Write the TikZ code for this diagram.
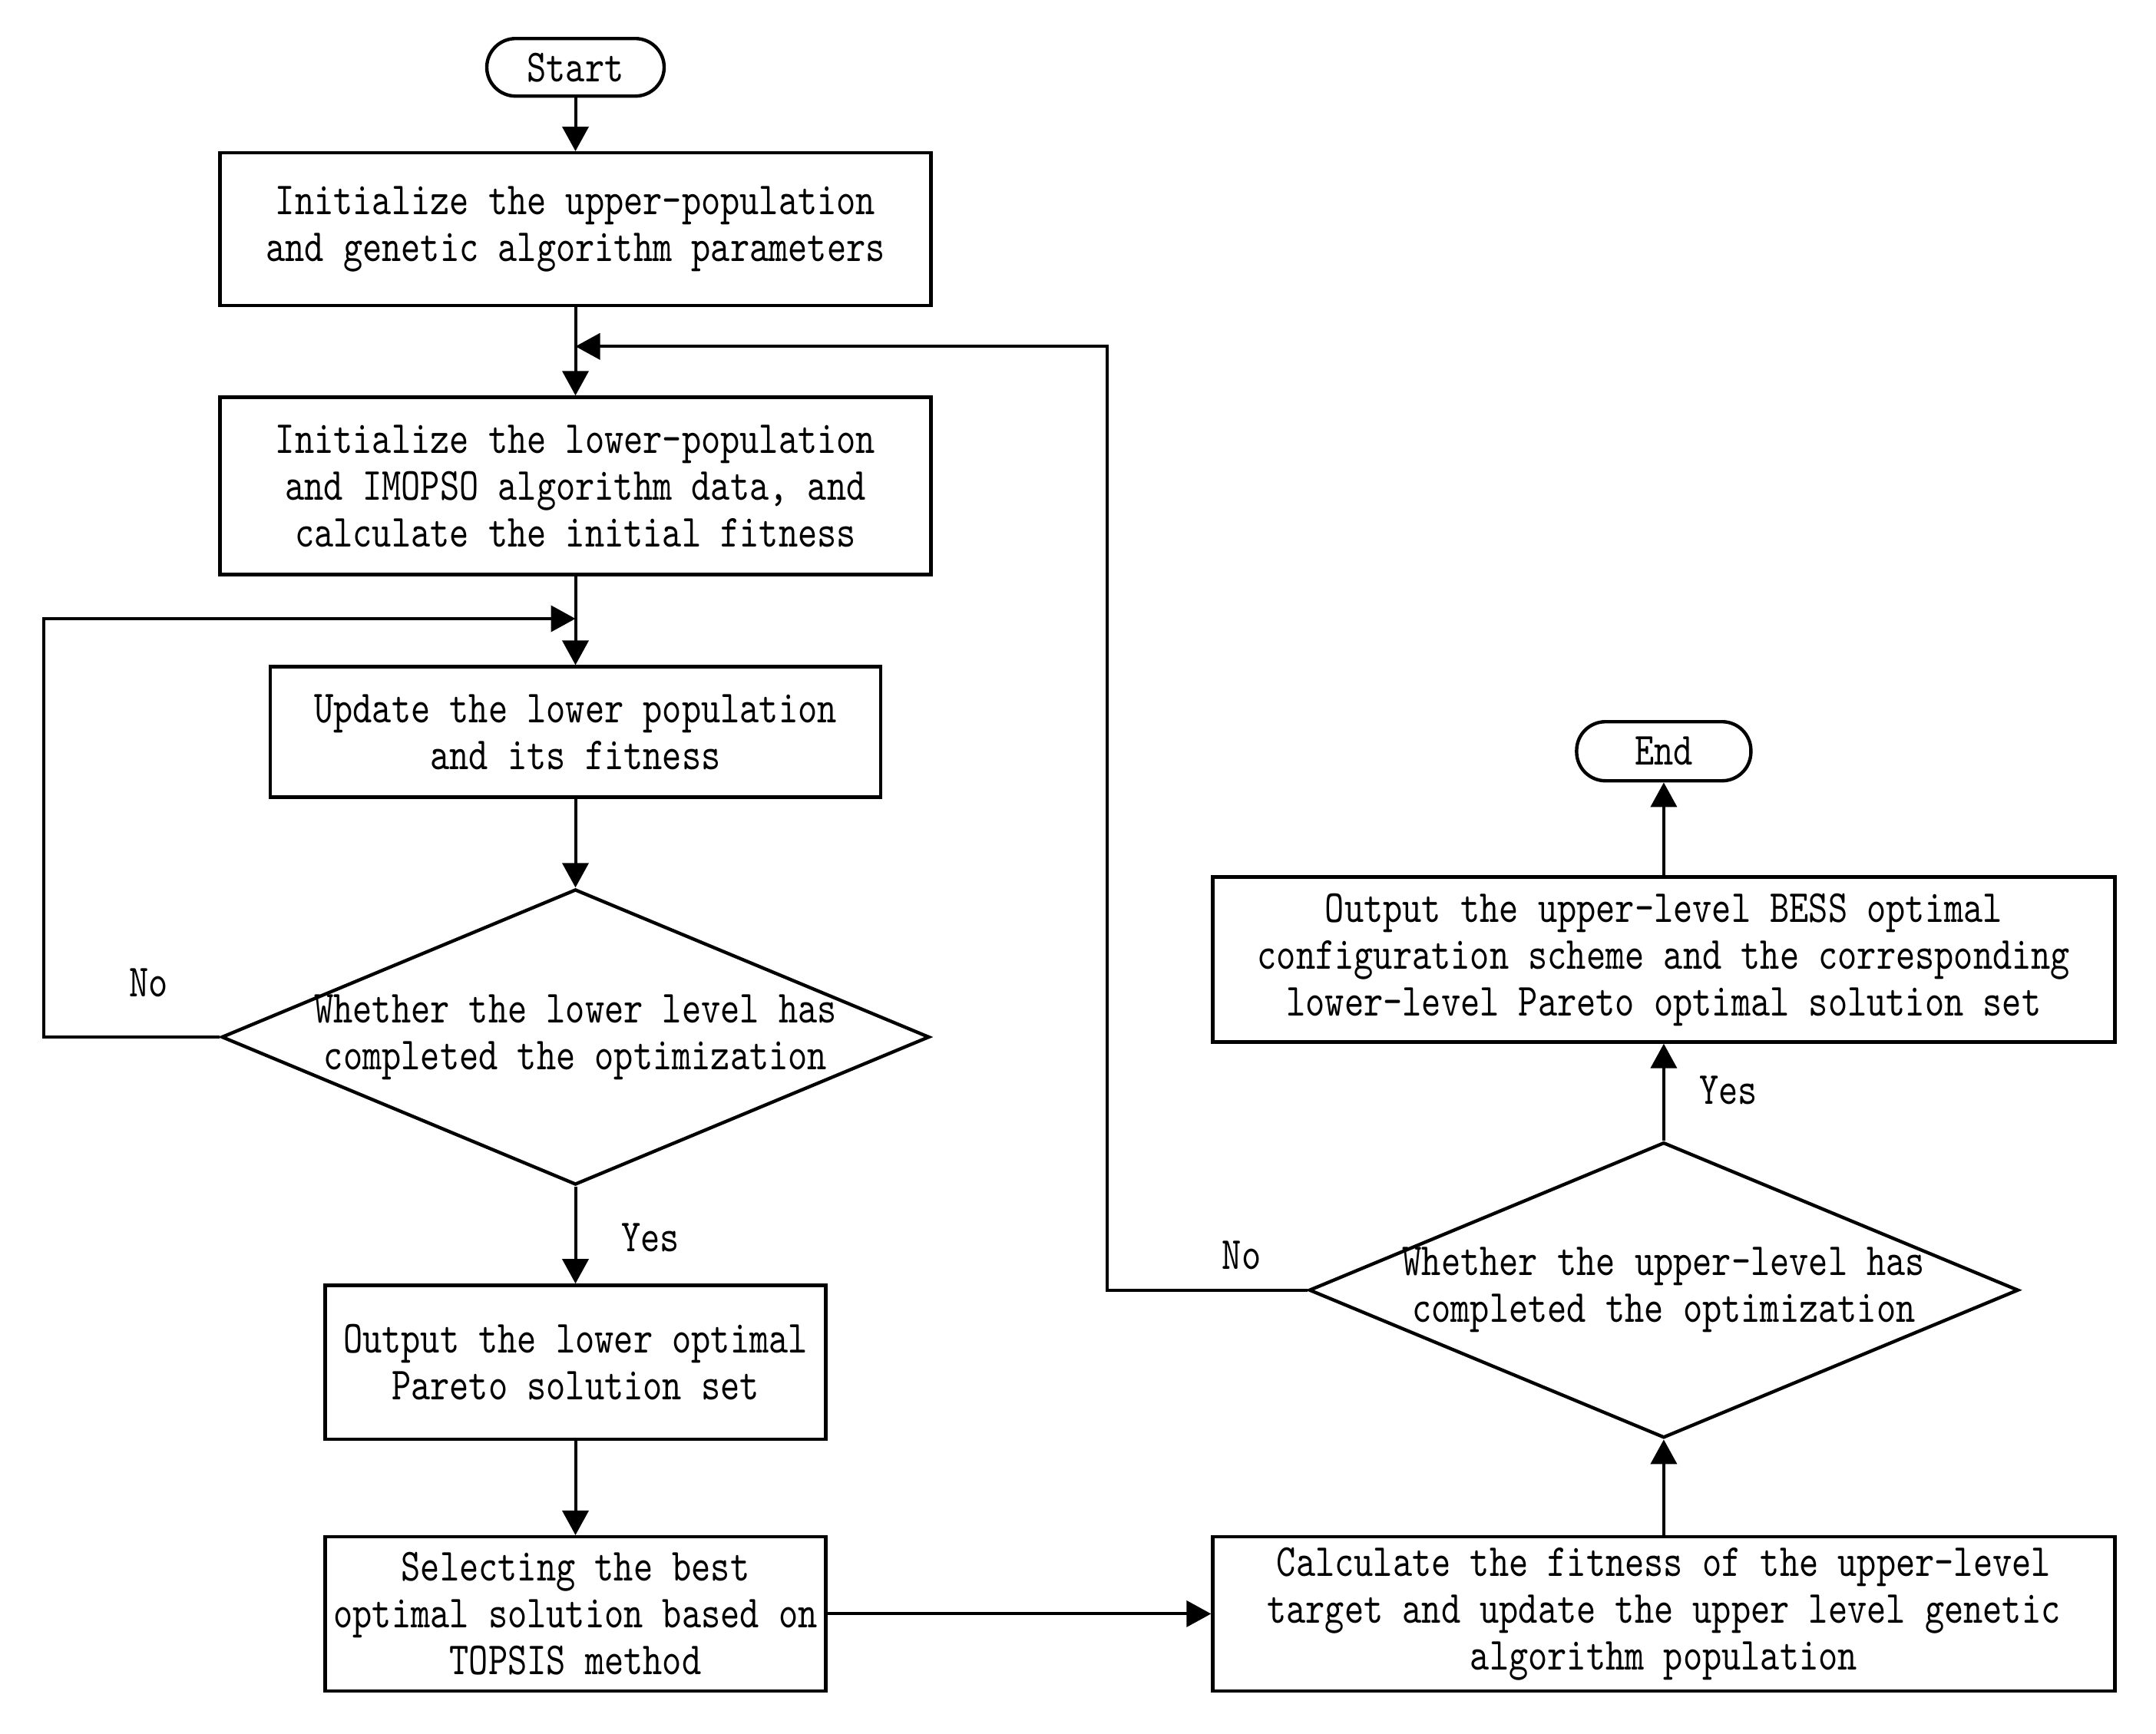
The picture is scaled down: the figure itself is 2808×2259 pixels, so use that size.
\documentclass[tikz,border=0pt]{standalone}
\usepackage{fontspec}
\setmainfont{lmmono10-regular.otf}[FakeStretch=0.8]
\usetikzlibrary{arrows.meta,shapes.geometric}
\begin{document}
\begin{tikzpicture}[x=0.25pt,y=-0.25pt,
  font=\fontsize{15pt}{15.25pt}\selectfont,
  box/.style={draw,line width=1.1pt,align=center,inner sep=0pt},
  term/.style={draw,line width=1.1pt,rounded corners=9.4pt,inner sep=0pt,align=center},
  dia/.style={draw,diamond,line width=1.1pt,inner sep=0pt},
  arr/.style={-{Triangle[length=8pt,width=8.5pt]},line width=1pt},
  lbl/.style={inner sep=0pt}]
\useasboundingbox (0,0) rectangle (2808,2259);
\node[term,minimum width=57.75pt,minimum height=18.75pt] (start) at (749.5,87.7) {Start};
\node[box,minimum width=231.5pt,minimum height=49.7pt] (b1) at (749.5,298.6) {Initialize the upper-population\\and genetic algorithm parameters};
\node[box,minimum width=231.5pt,minimum height=57.75pt] (b2) at (749.5,633) {Initialize the lower-population\\and IMOPSO algorithm data, and\\calculate the initial fitness};
\node[box,minimum width=198.75pt,minimum height=42.5pt] (b3) at (749.5,953.6) {Update the lower population\\and its fitness};
\node[dia,minimum width=230.5pt,minimum height=96.25pt] (d1) at (749.5,1351) {};
\node[lbl,align=center] (d1t) at (d1.center) {Whether the lower level has\\completed the optimization};
\node[box,minimum width=163pt,minimum height=50.15pt] (b4) at (749.5,1774.7) {Output the lower optimal\\Pareto solution set};
\node[box,minimum width=163pt,minimum height=50.15pt] (b5) at (749.5,2102.4) {Selecting the best\\optimal solution based on\\TOPSIS method};
\node[box,minimum width=293.7pt,minimum height=50.15pt] (b6) at (2166.9,2102.4) {Calculate the fitness of the upper-level\\target and update the upper level genetic\\algorithm population};
\node[dia,minimum width=231pt,minimum height=96.25pt] (d2) at (2166.9,1680.7) {};
\node[lbl,align=center] (d2t) at (d2.center) {Whether the upper-level has\\completed the optimization};
\node[box,minimum width=293.7pt,minimum height=53.75pt] (b7) at (2166.9,1250) {Output the upper-level BESS optimal\\configuration scheme and the corresponding\\lower-level Pareto optimal solution set};
\node[term,minimum width=56.75pt,minimum height=19.25pt] (end) at (2166.9,978.7) {End};
\coordinate (c1) at (57.3,1351);
\coordinate (c2) at (57.3,806);
\coordinate (m1) at (749.5,806);
\coordinate (c3) at (1441.6,1680.7);
\coordinate (c4) at (1441.6,451.3);
\coordinate (m2) at (749.5,451.3);
\node[lbl] (no1) at (193.4,1280) {No};
\node[lbl] (yes1) at (847,1612) {Yes};
\node[lbl] (no2) at (1617,1635) {No};
\node[lbl] (yes2) at (2251,1420) {Yes};
\draw[arr] (start) -- (b1);
\draw[arr] (b1) -- (b2);
\draw[arr] (b2) -- (b3);
\draw[arr] (b3) -- (d1.north);
\draw[arr] (d1.south) -- (b4);
\draw[arr] (b4) -- (b5);
\draw[arr] (b5) -- (b6);
\draw[arr] (b6) -- (d2.south);
\draw[arr] (d2.north) -- (b7);
\draw[arr] (b7) -- (end);
\draw[arr] (d1.west) -- (c1) -- (c2) -- (m1);
\draw[arr] (d2.west) -- (c3) -- (c4) -- (m2);
\end{tikzpicture}
\end{document}
